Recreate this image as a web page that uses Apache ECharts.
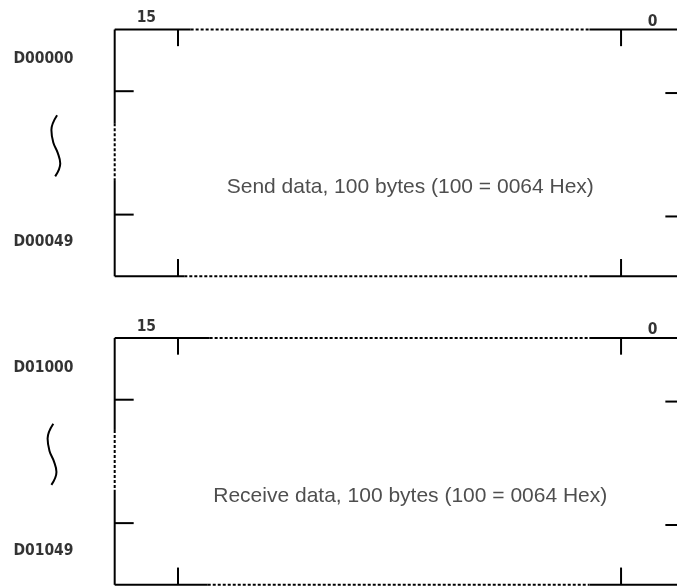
<!DOCTYPE html>
<html>
<head>
<meta charset="utf-8">
<script src="https://cdn.jsdelivr.net/npm/echarts@6/dist/echarts.min.js"></script>
<style>
  html, body { margin: 0; padding: 0; background: #fff; }
  #chart { width: 677px; height: 586px; }
</style>
</head>
<body>
<div id="chart"></div>
<script>
  // diagram units: x = word cells (box is 9 cells wide, 1..8 elided), y = word rows
  var panelTops = [0, 5]
  var panelTexts = ['Send data, 100 bytes (100 = 0064 Hex)', 'Receive data, 100 bytes (100 = 0064 Hex)']
  var firstWords = ['D00000', 'D01000']
  var lastWords = ['D00049', 'D01049']
  var bitLabels = ['15', '0']
  var bitCells = [0.5, 8.5]
  var colTicks = [1, 8]
  var rowTicks = [1, 3]
  var boxRows = 4
  var boxCells = 9
  // elided (dotted) stretches of each box edge
  var topDotted = [[1.2, 7.5], [1.5, 7.5]]
  var bottomDotted = [[1.1, 7.5], [1.47, 7.5]]
  var leftDotted = [[1.52, 2.44], [1.49, 2.46]]
  // the break mark drawn left of each box
  var braceX = [-0.91, -1.0, -0.97, -0.9, -0.86, -0.94]
  var braceY = [1.39, 1.63, 1.83, 2.0, 2.17, 2.38]
  var braceShift = [0, -0.06]

  var chart = echarts.init(document.getElementById('chart'))
  var series = []

  function addLine(points, dotted, smooth) {
    series.push({
      type: 'line',
      data: points,
      symbol: 'none',
      silent: true,
      smooth: smooth ? 0.4 : false,
      lineStyle: {
        color: '#000',
        width: 2,
        type: dotted ? [3, 2] : 'solid'
      }
    })
  }

  var labels = []
  for (var p = 0; p < panelTops.length; p++) {
    var t = panelTops[p]
    var b = t + boxRows
    // top edge
    addLine([[0, t], [topDotted[p][0], t]], false)
    addLine([[topDotted[p][0], t], [topDotted[p][1], t]], true)
    addLine([[topDotted[p][1], t], [boxCells, t]], false)
    // bottom edge
    addLine([[0, b], [bottomDotted[p][0], b]], false)
    addLine([[bottomDotted[p][0], b], [bottomDotted[p][1], b]], true)
    addLine([[bottomDotted[p][1], b], [boxCells, b]], false)
    // left edge
    addLine([[0, t], [0, t + leftDotted[p][0]]], false)
    addLine([[0, t + leftDotted[p][0]], [0, t + leftDotted[p][1]]], true)
    addLine([[0, t + leftDotted[p][1]], [0, b]], false)
    // bit ticks
    colTicks.forEach(function(c) {
      addLine([[c, t], [c, t + 0.27]], false)
      addLine([[c, b - 0.28], [c, b]], false)
    })
    // word ticks
    rowTicks.forEach(function(r) {
      addLine([[0, t + r], [0.3, t + r]], false)
      addLine([[boxCells - 0.3, t + r + 0.03], [boxCells, t + r + 0.03]], false)
    })
    // break mark
    var brace = []
    for (var i = 0; i < braceX.length; i++) {
      brace.push([braceX[i] + braceShift[p], t + braceY[i]])
    }
    addLine(brace, false, true)

    labels.push({ value: [bitCells[0], t - 0.18], label: { formatter: bitLabels[0] } })
    labels.push({ value: [bitCells[1], t - 0.13], label: { formatter: bitLabels[1] } })
    labels.push({ value: [-1.6, t + 0.48], label: { formatter: firstWords[p], align: 'left' } })
    labels.push({ value: [-1.6, t + 3.45], label: { formatter: lastWords[p], align: 'left' } })
    labels.push({
      value: [4.67, t + 2.56],
      label: {
        formatter: panelTexts[p],
        fontFamily: 'Liberation Sans, Arial, sans-serif',
        fontWeight: 'normal',
        fontSize: 21,
        color: '#222'
      }
    })
  }

  series.push({
    type: 'scatter',
    symbolSize: 0,
    silent: true,
    data: labels,
    label: {
      show: true,
      position: 'inside',
      color: '#000',
      fontFamily: 'DejaVu Sans Condensed, Liberation Sans Narrow, sans-serif',
      fontWeight: 'bold',
      fontSize: 15.5
    }
  })

  chart.setOption({
    animation: false,
    grid: { left: 0, right: 0, top: 0, bottom: 0 },
    xAxis: { type: 'value', min: -1.812, max: 8.884, show: false },
    yAxis: { type: 'value', inverse: true, min: -0.478, max: 9.019, show: false },
    series: series
  })
</script>
</body>
</html>
